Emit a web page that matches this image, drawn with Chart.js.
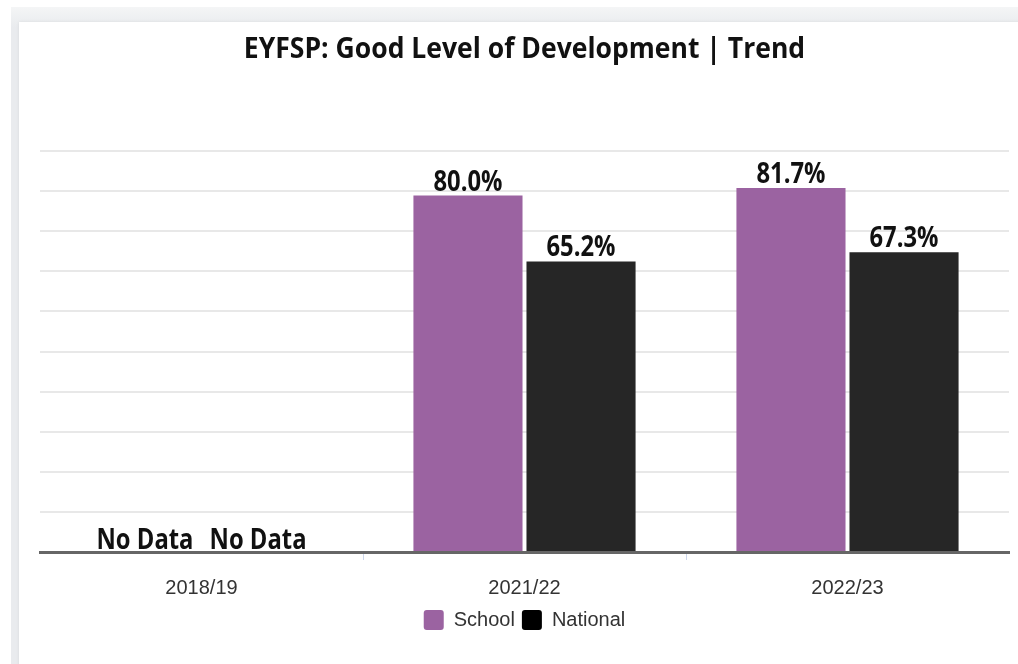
<!DOCTYPE html>
<html>
<head>
<meta charset="utf-8">
<script src="https://cdn.jsdelivr.net/npm/chart.js@4/dist/chart.umd.min.js"></script>
<style>
  html, body { margin: 0; padding: 0; width: 1018px; height: 664px; overflow: hidden; background: #ffffff; }
  .bg { position: absolute; left: 11px; top: 7px; right: 0; bottom: 0; background: linear-gradient(#f4f5f6, #e9ebee 20px); }
  .card { position: absolute; left: 19px; top: 22px; width: 1020px; height: 660px; background: #ffffff; box-shadow: 0 0 3px rgba(0,0,0,0.08); }
  #wrap { position: absolute; left: 19px; top: 22px; width: 999px; height: 642px; }
</style>
</head>
<body>
<div class="bg"></div>
<div class="card"></div>
<div id="wrap"><canvas id="c"></canvas></div>
<script>
const chartTitle = 'EYFSP: Good Level of Development | Trend';
const categories = ['2018/19', '2021/22', '2022/23'];
const schoolValues = [null, 80.0, 81.7];
const nationalValues = [null, 65.2, 67.3];
const seriesNames = ['School', 'National'];
const noDataText = 'No Data';
const legendColors = ['#9b63a1', '#000000'];

function drawCondensed(ctx, text, x, y, font, sx, color) {
  ctx.save();
  ctx.translate(x, y);
  ctx.scale(sx, 1);
  ctx.font = font;
  ctx.fillStyle = color;
  ctx.textAlign = 'center';
  ctx.textBaseline = 'alphabetic';
  ctx.fillText(text, 0, 0);
  ctx.restore();
}

const labelPlugin = {
  id: 'labels',
  afterDraw(chart) {
    const ctx = chart.ctx;
    const area = chart.chartArea;
    drawCondensed(ctx, chartTitle, (area.left + area.right) / 2, 36, 'bold 29px "Open Sans"', 0.915, '#111111');
    chart.data.datasets.forEach((ds, di) => {
      const meta = chart.getDatasetMeta(di);
      meta.data.forEach((el, i) => {
        const v = ds.data[i];
        const x = el.x;
        if (!isFinite(x)) return;
        if (v == null) {
          drawCondensed(ctx, noDataText, x, area.bottom - 3, 'bold 28px "Open Sans"', 0.85, '#111111');
        } else {
          drawCondensed(ctx, v.toFixed(1) + '%', x, el.y - 5, 'bold 28px "Open Sans"', 0.85, '#111111');
        }
      });
    });
  }
};

new Chart(document.getElementById('c'), {
  type: 'bar',
  data: {
    labels: categories,
    datasets: [
      { label: seriesNames[0], data: schoolValues, backgroundColor: '#9b63a1', borderWidth: 0 },
      { label: seriesNames[1], data: nationalValues, backgroundColor: '#262626', borderWidth: 0 }
    ]
  },
  options: {
    responsive: true,
    maintainAspectRatio: false,
    animation: false,
    layout: { padding: { top: 129, left: 21, right: 9, bottom: 24 } },
    datasets: { bar: { categoryPercentage: 0.7, barPercentage: 0.965 } },
    plugins: {
      title: { display: false },
      tooltip: { enabled: false },
      legend: {
        display: true,
        position: 'bottom',
        labels: {
          boxWidth: 20, boxHeight: 20, useBorderRadius: true, borderRadius: 3,
          padding: 7,
          color: '#333333',
          font: { family: '"Liberation Sans", Arial, sans-serif', size: 20 },
          generateLabels: (chart) => Chart.defaults.plugins.legend.labels.generateLabels(chart).map((l, i) => Object.assign(l, { fillStyle: legendColors[i], strokeStyle: legendColors[i], lineWidth: 0 }))
        }
      }
    },
    scales: {
      x: {
        afterFit: (s) => { s.height -= 13; },
        grid: {
          display: true, drawOnChartArea: false, drawTicks: true, tickLength: 8,
          color: (c) => (c.type !== 'tick' || c.index === 0) ? 'rgba(0,0,0,0)' : '#ccd6eb'
        },
        border: { display: true, color: '#666666', width: 3 },
        ticks: { color: '#333333', padding: 16, font: { family: '"Liberation Sans", Arial, sans-serif', size: 20 } }
      },
      y: {
        min: 0, max: 90,
        ticks: { display: false, stepSize: 9 },
        grid: { color: '#e8e8e8', lineWidth: 2, drawTicks: false },
        border: { display: false }
      }
    }
  },
  plugins: [labelPlugin]
});
</script>
</body>
</html>
